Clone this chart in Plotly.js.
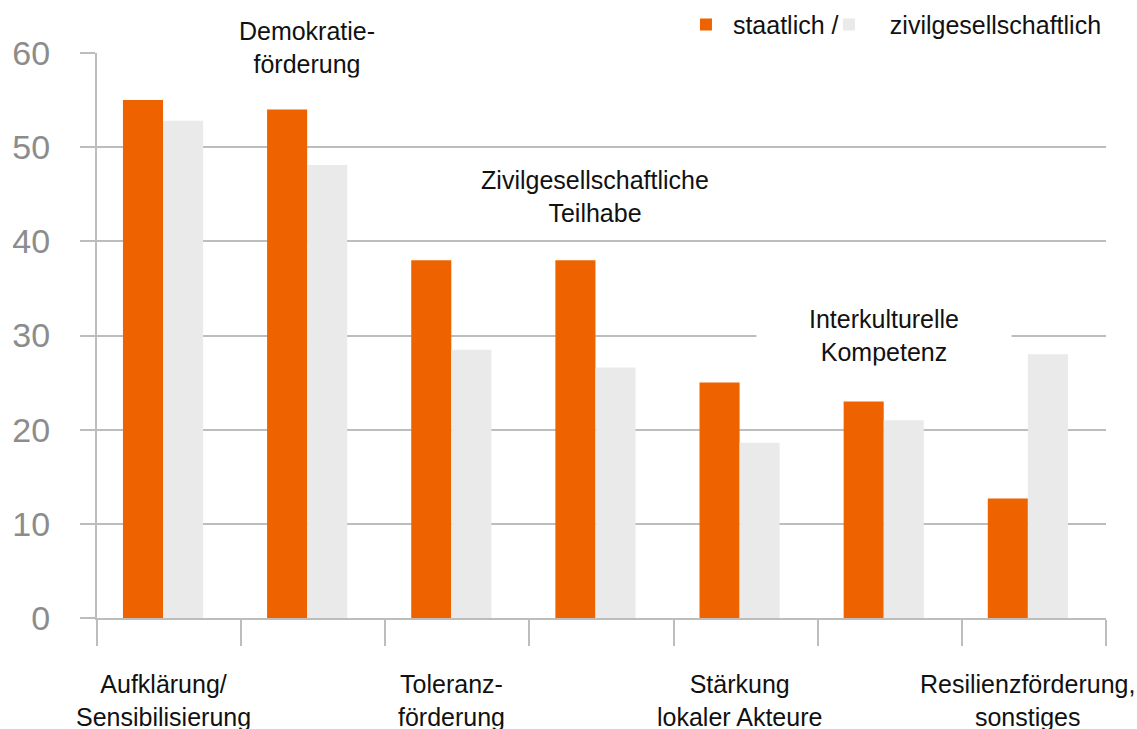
<!DOCTYPE html>
<html>
<head>
<meta charset="utf-8">
<script src="https://cdn.plot.ly/plotly-3.0.1.min.js"></script>
<style>html,body{margin:0;padding:0;background:#fff;}#chart{width:1137px;height:729px;}</style>
</head>
<body>
<div id="chart"></div>
<script>
// ---- data ----
const categories = [
  'Aufklärung/<br>Sensibilisierung',
  'Demokratie-<br>förderung',
  'Toleranz-<br>förderung',
  'Zivilgesellschaftliche<br>Teilhabe',
  'Stärkung<br>lokaler Akteure',
  'Interkulturelle<br>Kompetenz',
  'Resilienzförderung,<br>sonstiges'
];
const staatlich = [55, 54, 38, 38, 25, 23, 12.7];
const zivilgesellschaftlich = [52.8, 48.1, 28.5, 26.6, 18.6, 21.0, 28.0];
const seriesNames = ['staatlich /', 'zivilgesellschaftlich'];
const yTickValues = [0, 10, 20, 30, 40, 50, 60];

// ---- styling / layout ----
const ORANGE = '#EE6300';
const LIGHT = '#EAEAEA';
const GRID = '#BDBDBD';
const FONT = '"Liberation Sans", Arial, Helvetica, sans-serif';
const BAR_W = 0.278;
const SHIFT = -0.042;
const Y_MAX = 60;

const traces = [
  {
    type: 'bar', name: '\u00a0' + seriesNames[0], x: categories, y: staatlich,
    marker: {color: ORANGE}, width: BAR_W, offset: SHIFT - BAR_W,
    legend: 'legend', hoverinfo: 'skip'
  },
  {
    type: 'bar', name: '\u00a0\u00a0\u00a0' + seriesNames[1], x: categories, y: zivilgesellschaftlich,
    marker: {color: LIGHT}, width: BAR_W, offset: SHIFT,
    legend: 'legend2', hoverinfo: 'skip'
  }
];

// label placement: odd-indexed categories on top (boxed), others below axis
const topLabelLevel = {1: 60.6, 3: 44.8, 5: 30.0};   // in axis units
const topLabelW = {1: 214, 3: 246, 5: 246};
const annotations = categories.map((c, i) => {
  const base = {
    text: c, x: i + SHIFT, xref: 'x', showarrow: false,
    font: {family: FONT, size: 25, color: '#111111'}, align: 'center'
  };
  if (i % 2 === 1) {
    return Object.assign(base, {
      yref: 'paper', y: topLabelLevel[i] / Y_MAX, yanchor: 'middle',
      bgcolor: '#ffffff', width: topLabelW[i], borderpad: 4
    });
  }
  return Object.assign(base, {yref: 'paper', y: -0.088, yanchor: 'top'});
});

const legendStyle = {
  orientation: 'h', xanchor: 'left', y: 1.05, yanchor: 'middle',
  font: {family: FONT, size: 25, color: '#111111'},
  bgcolor: 'rgba(0,0,0,0)', itemclick: false
};

const layout = {
  width: 1137, height: 729,
  margin: {l: 97, r: 31, t: 53, b: 111, pad: 0, autoexpand: false},
  paper_bgcolor: '#ffffff', plot_bgcolor: '#ffffff',
  font: {family: FONT, color: '#111111'},
  barmode: 'overlay',
  showlegend: true,
  legend: Object.assign({x: 0.5837}, legendStyle),
  legend2: Object.assign({x: 0.7255}, legendStyle),
  xaxis: {
    type: 'category', range: [-0.5, categories.length - 0.5],
    showgrid: false, zeroline: false,
    showline: true, linecolor: GRID, linewidth: 2,
    ticks: 'outside', tickson: 'boundaries', ticklen: 26, tickwidth: 2, tickcolor: GRID,
    showticklabels: false, fixedrange: true
  },
  yaxis: {
    range: [0, Y_MAX], tickmode: 'array', tickvals: yTickValues,
    showgrid: true, gridcolor: GRID, gridwidth: 2, zeroline: false,
    showline: true, linecolor: GRID, linewidth: 2,
    ticks: 'outside', ticklen: 15, tickwidth: 2, tickcolor: GRID,
    tickfont: {family: FONT, size: 34, color: '#8C8C8C'},
    ticklabelstandoff: 23, fixedrange: true
  },
  annotations: annotations
};

Plotly.newPlot('chart', traces, layout, {displayModeBar: false, staticPlot: true});
</script>
</body>
</html>
